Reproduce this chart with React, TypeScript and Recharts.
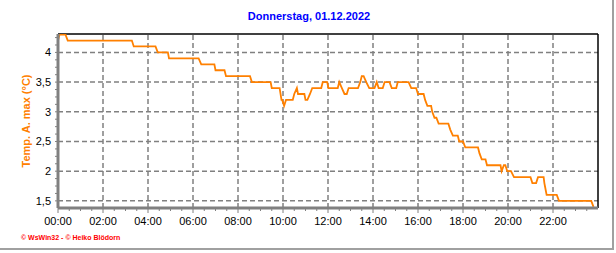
import { LineChart, Line, XAxis, YAxis, ReferenceLine } from 'recharts';

// Temp. A. max, Donnerstag 01.12.2022 – Zeitpunkte an denen sich der Wert ändert
const zeiten = [
  '00:00', '00:04', '00:20', '00:26', '03:17', '03:22', '04:20', '04:26', '04:53', '04:56',
  '06:15', '06:22', '06:57', '07:00', '07:24', '07:28', '08:32', '08:37', '09:27', '09:30',
  '09:51', '09:56', '09:58', '10:03', '10:08', '10:26', '10:30', '10:37', '10:40', '10:57',
  '11:00', '11:05', '11:12', '11:18', '11:42', '11:46', '11:58', '12:01', '12:26', '12:30',
  '12:37', '12:44', '12:50', '12:55', '13:20', '13:26', '13:30', '13:35', '13:42', '13:50',
  '14:04', '14:10', '14:15', '14:26', '14:31', '14:44', '14:50', '15:02', '15:06', '15:35',
  '15:42', '15:55', '16:00', '16:15', '16:19', '16:25', '16:35', '16:38', '16:44', '16:49',
  '16:55', '17:21', '17:26', '17:33', '17:46', '17:50', '18:00', '18:06', '18:40', '18:44',
  '18:50', '19:00', '19:04', '19:40', '19:43', '19:49', '19:53', '19:58', '20:08', '20:16',
  '21:00', '21:05', '21:15', '21:20', '21:35', '21:37', '21:40', '21:43', '22:10', '22:16',
  '23:42', '23:48',
];
const temperaturen = [
  4.2, 4.3, 4.3, 4.2, 4.2, 4.1, 4.1, 4.0, 4.0, 3.9,
  3.9, 3.8, 3.8, 3.7, 3.7, 3.6, 3.6, 3.5, 3.5, 3.4,
  3.4, 3.2, 3.2, 3.1, 3.2, 3.2, 3.3, 3.4, 3.3, 3.3,
  3.2, 3.2, 3.3, 3.4, 3.4, 3.5, 3.5, 3.4, 3.4, 3.5,
  3.4, 3.3, 3.3, 3.4, 3.4, 3.5, 3.6, 3.6, 3.5, 3.4,
  3.4, 3.5, 3.4, 3.4, 3.5, 3.5, 3.4, 3.4, 3.5, 3.5,
  3.4, 3.4, 3.3, 3.3, 3.2, 3.1, 3.1, 3.0, 2.9, 2.9,
  2.8, 2.8, 2.7, 2.6, 2.6, 2.5, 2.5, 2.4, 2.4, 2.3,
  2.2, 2.2, 2.1, 2.1, 2.0, 2.1, 2.1, 2.0, 2.0, 1.9,
  1.9, 1.8, 1.8, 1.9, 1.9, 1.8, 1.7, 1.6, 1.6, 1.5,
  1.5, 1.4,
];

const yHaupt = [1.5, 2, 2.5, 3, 3.5, 4];
const xHaupt = [0, 120, 240, 360, 480, 600, 720, 840, 960, 1080, 1200, 1320];

const minuten = (s: string) => {
  const [h, m] = s.split(':').map(Number);
  return h * 60 + m;
};

const daten = zeiten.map((z, i) => ({ t: minuten(z), v: temperaturen[i] }));

// kleine Striche: 4 pro Hauptintervall
const xTicks: number[] = [];
xHaupt.forEach((x) => [0, 30, 60, 90].forEach((d) => xTicks.push(x + d)));
const yTicks: number[] = [];
yHaupt.forEach((y) => [0, 0.125, 0.25, 0.375].forEach((d) => y + d < 4.31 && yTicks.push(y + d)));

const FONT = '"Liberation Sans", Arial, sans-serif';

const fmtZeit = (m: number) =>
  `${String(Math.floor(m / 60)).padStart(2, '0')}:${String(m % 60).padStart(2, '0')}`;

const XTick = ({ x, y, payload }: any) => {
  const haupt = payload.value % 120 === 0;
  return (
    <g>
      <line x1={x} x2={x} y1={y} y2={y + (haupt ? 5 : 3)} stroke="#808080" strokeWidth={1} />
      {haupt && (
        <text x={x} y={y + 17} textAnchor="middle" fontSize={11} fontFamily={FONT} fill="#000">
          {fmtZeit(payload.value)}
        </text>
      )}
    </g>
  );
};

const YTick = ({ x, y, payload }: any) => {
  const haupt = Math.abs(payload.value * 2 - Math.round(payload.value * 2)) < 1e-6;
  return (
    <g>
      <line x1={x - 3} x2={x} y1={y} y2={y} stroke="#808080" strokeWidth={1} />
      {haupt && (
        <text x={x - 7} y={y + 4} textAnchor="end" fontSize={11} fontFamily={FONT} fill="#000">
          {String(payload.value).replace('.', ',')}
        </text>
      )}
    </g>
  );
};

export default function App() {
  return (
    <div
      style={{
        position: 'absolute',
        left: 0,
        top: 0,
        width: 616,
        height: 253,
        background: '#fff',
        fontFamily: FONT,
      }}
    >
      <div
        style={{
          position: 'absolute',
          left: 0,
          width: 618,
          top: 10,
          textAlign: 'center',
          fontSize: 11,
          fontWeight: 'bold',
          color: '#0000ff',
        }}
      >
        Donnerstag, 01.12.2022
      </div>
      <div
        style={{
          position: 'absolute',
          left: 26,
          top: 121,
          transform: 'translate(-50%, -50%) rotate(-90deg)',
          whiteSpace: 'nowrap',
          fontSize: 11,
          fontWeight: 'bold',
          color: '#ff8000',
        }}
      >
        Temp. A. max (°C)
      </div>
      <div
        style={{
          position: 'absolute',
          left: 21,
          top: 234,
          fontSize: 7,
          fontWeight: 'bold',
          color: '#ff0000',
          whiteSpace: 'nowrap',
        }}
      >
        © WsWin32 - © Heiko Blödorn
      </div>
      <div style={{ position: 'absolute', left: 612, top: 0, width: 2, height: 250, background: '#a0a0a0' }} />
      <div style={{ position: 'absolute', left: 0, top: 248, width: 614, height: 2, background: '#a0a0a0' }} />

      <LineChart
        width={616}
        height={253}
        data={daten}
        margin={{ top: 34, right: 18, bottom: 15, left: 0 }}
        style={{ position: 'absolute', left: 0, top: 0 }}
      >
        {yHaupt.map((y) => (
          <ReferenceLine key={'y' + y} y={y} stroke="#808080" strokeWidth={1.5} strokeDasharray="5 3" />
        ))}
        {xHaupt.slice(1).map((x) => (
          <ReferenceLine key={'x' + x} x={x} stroke="#808080" strokeWidth={1.5} strokeDasharray="5 3" />
        ))}
        <ReferenceLine y={4.31} stroke="#000" strokeWidth={1.5} />
        <ReferenceLine x={1440} stroke="#000" strokeWidth={1.5} />
        <XAxis
          dataKey="t"
          type="number"
          domain={[0, 1440]}
          allowDataOverflow
          ticks={xTicks}
          interval={0}
          height={30}
          tickSize={0}
          tickMargin={0}
          tickLine={false}
          axisLine={{ stroke: '#808080', strokeWidth: 3 }}
          tick={<XTick />}
        />
        <YAxis
          type="number"
          domain={[1.38, 4.31]}
          allowDataOverflow
          ticks={yTicks}
          interval={0}
          width={58}
          tickSize={0}
          tickMargin={0}
          tickLine={false}
          axisLine={{ stroke: '#808080', strokeWidth: 3 }}
          tick={<YTick />}
        />
        <Line
          type="linear"
          dataKey="v"
          stroke="#ff8000"
          strokeWidth={1.8}
          dot={false}
          isAnimationActive={false}
        />
      </LineChart>
    </div>
  );
}
